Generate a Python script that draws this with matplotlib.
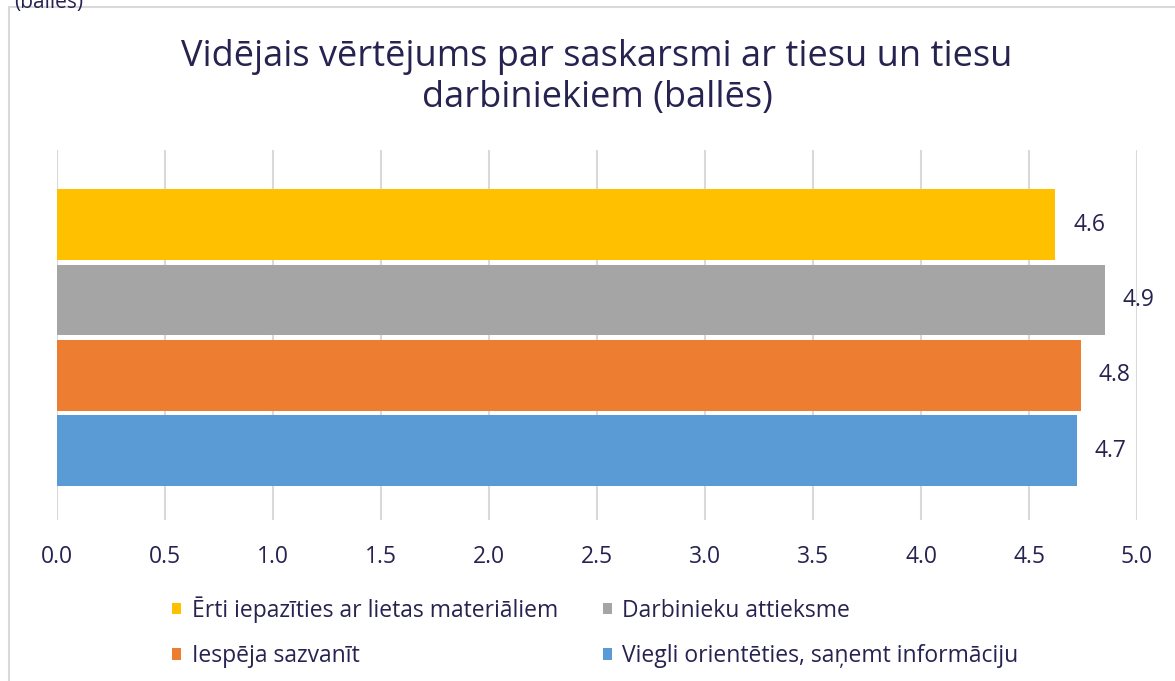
import matplotlib.pyplot as plt
from matplotlib.patches import Rectangle

# data
series = ["Ērti iepazīties ar lietas materiāliem", "Darbinieku attieksme",
          "Iespēja sazvanīt", "Viegli orientēties, saņemt informāciju"]
values = [4.62, 4.85, 4.74, 4.72]
labels = ["4.6", "4.9", "4.8", "4.7"]
colors = ["#FFC000", "#A5A5A5", "#ED7D31", "#5B9BD5"]
ticks = [0.0, 0.5, 1.0, 1.5, 2.0, 2.5, 3.0, 3.5, 4.0, 4.5, 5.0]

txt = "#262350"
plt.rcParams['font.family'] = ['Open Sans', 'DejaVu Sans']

fig = plt.figure(figsize=(11.75, 6.81), dpi=100)
ax = fig.add_axes([0.0485, 0.2364, 0.9192, 0.5433])

# outer frame of the chart area
fig.patches.append(Rectangle((9 / 1175, -0.05), 1.2, 1 - 7 / 681 + 0.05,
                             transform=fig.transFigure, fill=False,
                             edgecolor="#D9D9D9", linewidth=1.5))
fig.text(0.012, 0.997, "(ballēs)", color=txt, fontsize=15, va="center", ha="left")

handles = []
for i, (s, v, c) in enumerate(zip(series, values, colors)):
    h = ax.barh(i, v, height=0.94, color=c, label=s, zorder=2)
    handles.append(h)
    ax.annotate(labels[i], (v, i), xytext=(13, 0), textcoords="offset points",
                va="center", ha="left", fontsize=16.5, color=txt)

ax.set_xlim(0, 5)
ax.set_ylim(3.92, -0.99)
ax.set_xticks(ticks)
ax.set_xticklabels([f"{t:.1f}" for t in ticks], fontsize=16.5, color=txt)
ax.set_yticks([])
ax.tick_params(axis="x", length=0, pad=18)
ax.grid(axis="x", color="#D9D9D9", linewidth=1.5, zorder=0)
for sp in ax.spines.values():
    sp.set_visible(False)
ax.axvline(0, color="#D9D9D9", linewidth=1.5, zorder=1)

ax.set_title("Vidējais vērtējums par saskarsmi ar tiesu un tiesu\ndarbiniekiem (ballēs)",
             fontsize=26, color=txt, pad=31, linespacing=1.2)

order = [0, 2, 1, 3]
leg = fig.legend([handles[k] for k in order], [series[k] for k in order],
                 loc="upper left", bbox_to_anchor=(0.129, 0.155), ncol=2,
                 frameon=False, fontsize=16.5, handlelength=0.4, handleheight=0.4,
                 handletextpad=0.45, columnspacing=1.95, labelspacing=0.95,
                 labelcolor=txt)

fig.savefig("out.png", dpi=100)
